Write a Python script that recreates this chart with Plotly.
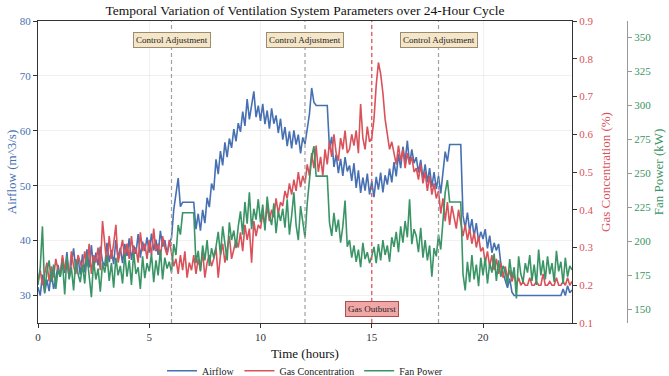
import plotly.graph_objects as go

# time axis: every 0.1 hour from 0 to 24
hours = [i / 10 for i in range(241)]

airflow = [
    31.5, 30.0, 33.8, 30.4, 32.9, 30.8, 34.5, 31.2, 33.0, 35.6,
    33.4, 36.8, 34.1, 37.9, 33.2, 36.3, 38.6, 34.7, 36.9, 33.8,
    37.5, 34.2, 38.4, 35.1, 39.2, 34.6, 37.8, 35.5, 38.9, 36.2,
    35.4, 39.6, 36.1, 38.3, 35.7, 40.1, 36.8, 38.7, 35.9, 39.4,
    37.2, 40.4, 36.5, 39.1, 37.6, 41.2, 36.9, 39.8, 38.1, 40.6,
    37.8, 41.3, 38.2, 40.2, 37.4, 41.8, 38.9, 40.1, 37.6, 39.4,
    40.5, 45.6, 48.1, 51.4, 46.2, 47.0, 47.0, 47.0, 47.0, 47.0,
    47.0, 42.1, 44.9, 41.8, 45.6, 43.2, 47.8, 46.1, 50.4, 49.2,
    54.8, 52.1, 56.3, 53.7, 57.9, 55.2, 58.6, 56.9, 60.3, 58.1,
    61.4, 59.8, 63.5, 60.9, 65.8, 62.1, 64.3, 67.2, 62.5, 64.6,
    61.8, 64.9, 61.2, 63.7, 60.4, 64.1, 61.3, 62.8, 59.6, 62.2,
    58.4, 60.7, 57.2, 59.9, 56.8, 60.1, 57.5, 59.3, 55.9, 58.8,
    57.6, 60.4, 63.1, 67.8, 65.2, 64.6, 64.6, 64.6, 64.6, 64.6,
    64.6, 56.8, 58.9, 53.4, 55.7, 52.3, 54.9, 51.8, 55.2, 52.6,
    53.7, 50.9, 54.1, 49.6, 52.8, 48.7, 51.5, 49.1, 52.2, 48.4,
    50.8, 47.9, 51.6, 49.3, 52.4, 48.8, 51.9, 50.2, 53.1, 50.6,
    54.3, 51.7, 55.8, 53.2, 57.1, 54.4, 58.2, 53.9, 56.6, 54.1,
    55.2, 52.4, 54.7, 51.3, 53.9, 50.6, 53.2, 49.8, 52.5, 49.4,
    51.8, 48.6, 53.1, 56.2, 54.4, 57.5, 57.5, 57.5, 57.5, 57.5,
    57.5, 44.6, 42.3, 45.1, 41.7, 43.9, 40.8, 43.2, 39.9, 41.6,
    40.3, 42.1, 38.6, 40.9, 37.8, 39.6, 38.2, 39.4, 35.8, 34.1,
    32.6, 31.4, 33.1, 30.6, 30.0, 30.0, 30.0, 30.0, 30.0, 30.0,
    30.0, 30.0, 30.0, 30.0, 30.0, 30.0, 30.0, 30.0, 30.0, 30.0,
    30.0, 30.0, 30.0, 30.0, 30.0, 30.0, 31.2, 30.0, 31.8, 30.5,
    31.0,
]

gas = [
    0.21, 0.24, 0.20, 0.23, 0.26, 0.21, 0.25, 0.22, 0.27, 0.24,
    0.23, 0.28, 0.24, 0.27, 0.22, 0.29, 0.25, 0.23, 0.28, 0.26,
    0.24, 0.29, 0.25, 0.31, 0.23, 0.28, 0.26, 0.30, 0.24, 0.37,
    0.30, 0.25, 0.33, 0.27, 0.31, 0.36, 0.26, 0.29, 0.32, 0.27,
    0.31, 0.27, 0.33, 0.28, 0.30, 0.26, 0.34, 0.29, 0.31, 0.27,
    0.32, 0.28, 0.35, 0.29, 0.31, 0.27, 0.33, 0.30, 0.28, 0.32,
    0.29, 0.25, 0.27, 0.23, 0.28, 0.24, 0.29, 0.22, 0.26, 0.24,
    0.28, 0.23, 0.27, 0.24, 0.29, 0.22, 0.26, 0.28, 0.25, 0.27,
    0.30, 0.22, 0.28, 0.31, 0.26, 0.29, 0.33, 0.27, 0.30, 0.32,
    0.30, 0.34, 0.29, 0.36, 0.32, 0.35, 0.26, 0.37, 0.33, 0.36,
    0.35, 0.39, 0.36, 0.41, 0.37, 0.40, 0.38, 0.43, 0.39, 0.42,
    0.41, 0.45, 0.43, 0.47, 0.44, 0.48, 0.45, 0.50, 0.46, 0.49,
    0.47, 0.52, 0.49, 0.55, 0.51, 0.57, 0.50, 0.54, 0.49, 0.56,
    0.52, 0.58, 0.54, 0.60, 0.55, 0.53, 0.59, 0.56, 0.61, 0.55,
    0.56, 0.60, 0.57, 0.61, 0.55, 0.68, 0.59, 0.56, 0.62, 0.58,
    0.59, 0.64, 0.73, 0.79, 0.76, 0.71, 0.64, 0.60, 0.56, 0.58,
    0.55, 0.52, 0.57, 0.53, 0.56, 0.51, 0.55, 0.52, 0.54, 0.50,
    0.51, 0.48, 0.52, 0.47, 0.50, 0.45, 0.49, 0.44, 0.47, 0.43,
    0.45, 0.39, 0.43, 0.37, 0.42, 0.36, 0.41, 0.38, 0.35, 0.40,
    0.37, 0.33, 0.36, 0.32, 0.35, 0.31, 0.34, 0.30, 0.33, 0.29,
    0.30, 0.26, 0.29, 0.25, 0.28, 0.24, 0.27, 0.23, 0.26, 0.22,
    0.25, 0.22, 0.24, 0.21, 0.23, 0.20, 0.22, 0.20, 0.21, 0.20,
    0.20, 0.22, 0.20, 0.20, 0.21, 0.20, 0.20, 0.23, 0.20, 0.20,
    0.21, 0.20, 0.20, 0.22, 0.20, 0.20, 0.21, 0.20, 0.22, 0.20,
    0.21,
]

fan_power = [
    168, 181, 211, 163, 178, 186, 170, 183, 165, 179,
    174, 185, 161, 189, 172, 181, 164, 187, 176, 170,
    183, 169, 190, 175, 159, 186, 172, 180, 163, 184,
    177, 190, 171, 184, 166, 188, 175, 182, 169, 191,
    174, 186, 168, 192, 176, 181, 165, 189, 173, 184,
    178, 191, 170, 186, 175, 194, 172, 188, 180, 185,
    177, 198, 190, 212, 205, 221, 221, 221, 221, 221,
    221, 184, 193, 178, 197, 186, 201, 182, 195, 188,
    196, 207, 190, 211, 198, 186, 214, 201, 208, 195,
    211, 222, 205, 229, 213, 236, 209, 224, 216, 231,
    214, 227, 208, 233, 219, 212, 228, 206, 222, 215,
    224, 210, 231, 205, 219, 236, 212, 201, 226, 215,
    203, 228, 247, 262, 270, 248, 248, 248, 248, 248,
    248, 214, 204, 221, 207, 216, 199, 211, 230, 196,
    201, 188, 197, 185, 194, 181, 199, 187, 192, 184,
    189, 196, 184, 198, 186, 201, 190, 197, 185, 203,
    196, 207, 192, 211, 199, 215, 203, 231, 198, 209,
    204, 192, 210, 188, 201, 186, 197, 174, 195, 189,
    205, 194, 213, 236, 245, 229, 229, 229, 229, 229,
    229, 176, 164, 185, 170, 190, 172, 183, 167, 188,
    175, 188, 169, 184, 177, 191, 171, 186, 174, 182,
    178, 168, 187, 173, 181, 158, 189, 176, 170, 184,
    177, 190, 171, 183, 168, 194, 175, 186, 172, 189,
    176, 184, 170, 193, 178, 185, 169, 188, 174, 182,
    179,
]

control_times = [6, 12, 18]
control_label = "Control Adjustment"
outburst_time = 15
outburst_label = "Gas Outburst"

x_ticks = [0, 5, 10, 15, 20]
air_ticks = [30, 40, 50, 60, 70, 80]
gas_ticks = [0.1, 0.2, 0.3, 0.4, 0.5, 0.6, 0.7, 0.8, 0.9]
fan_ticks = [150, 175, 200, 225, 250, 275, 300, 325, 350]

BLUE = "#4670B2"
RED = "#D9525A"
GREEN = "#3A9465"
FONT = "Liberation Serif"
AX = "#333333"

fig = go.Figure()
fig.add_trace(go.Scatter(x=hours, y=airflow, name="Airflow", mode="lines",
                         line=dict(color=BLUE, width=1.6), yaxis="y"))
fig.add_trace(go.Scatter(x=hours, y=gas, name="Gas Concentration", mode="lines",
                         line=dict(color=RED, width=1.6), yaxis="y2"))
fig.add_trace(go.Scatter(x=hours, y=fan_power, name="Fan Power", mode="lines",
                         line=dict(color=GREEN, width=1.6), yaxis="y3"))

for t in control_times:
    fig.add_shape(type="line", xref="x", yref="paper", x0=t, x1=t, y0=0, y1=1,
                  line=dict(color="#a0a0a0", width=1.2, dash="4px,3px"))
    fig.add_annotation(x=t, y=0.937, xref="x", yref="paper", yanchor="middle",
                       text=control_label, showarrow=False,
                       font=dict(family=FONT, size=9, color="#222"),
                       bgcolor="#F5E6C8", bordercolor="#9B8B70", borderwidth=1, borderpad=2)

fig.add_shape(type="line", xref="x", yref="paper", x0=outburst_time, x1=outburst_time,
              y0=0, y1=1, line=dict(color="#E5545A", width=1.3, dash="4px,3px"))
fig.add_annotation(x=outburst_time, y=0.046, xref="x", yref="paper", yanchor="middle",
                   text=outburst_label, showarrow=False,
                   font=dict(family=FONT, size=9, color="#222"),
                   bgcolor="#F2A7A7", bordercolor="#A85050", borderwidth=1, borderpad=2)

fig.update_layout(
    width=669, height=376,
    margin=dict(l=38, r=20, t=21, b=53, autoexpand=False),
    paper_bgcolor="white", plot_bgcolor="white",
    font=dict(family=FONT, size=11, color=AX),
    title=dict(text="Temporal Variation of Ventilation System Parameters over 24-Hour Cycle",
               x=0.437, xref="paper", xanchor="center", y=0.972, yref="container",
               yanchor="middle", font=dict(family=FONT, size=13.5, color="#111")),
    showlegend=True,
    legend=dict(orientation="h", x=0.437, xanchor="center", y=-0.158, yanchor="middle",
                font=dict(family=FONT, size=10, color="#222"), bgcolor="rgba(0,0,0,0)"),
    xaxis=dict(domain=[0, 0.874], range=[0, 24], tickvals=x_ticks, automargin=False,
               showline=True, linecolor=AX, linewidth=1, mirror=True,
               ticks="outside", ticklen=4, tickcolor=AX,
               showgrid=True, gridcolor="rgba(0,0,0,0.06)", zeroline=False,
               title=dict(text="Time (hours)", font=dict(family=FONT, size=13, color="#111"),
                          standoff=6)),
    yaxis=dict(range=[25, 80], tickvals=air_ticks, showline=True, linecolor=AX,
               automargin=False, ticks="outside", ticklen=4, tickcolor=AX,
               tickfont=dict(color=BLUE), showgrid=True, gridcolor="rgba(0,0,0,0.06)",
               zeroline=False,
               title=dict(text="Airflow (m^3/s)", font=dict(family=FONT, size=13, color=BLUE),
                          standoff=0)),
    yaxis2=dict(range=[0.1, 0.9], tickvals=gas_ticks, tickformat=".1f",
                overlaying="y", side="right", anchor="x", automargin=False,
                showline=True, linecolor=AX, ticks="outside", ticklen=4, tickcolor=AX,
                tickfont=dict(color=RED), showgrid=False, zeroline=False,
                title=dict(text="Gas Concentration (%)", font=dict(family=FONT, size=13, color=RED),
                           standoff=8)),
    yaxis3=dict(range=[140, 362], tickvals=fan_ticks,
                overlaying="y", side="right", anchor="free", position=0.964,
                automargin=False,
                showline=True, linecolor="#999999", ticks="outside", ticklen=4,
                tickcolor="#999999", tickfont=dict(color=GREEN), showgrid=False,
                zeroline=False,
                title=dict(text="Fan Power (kW)", font=dict(family=FONT, size=13, color=GREEN),
                           standoff=0)),
)

fig.write_html("out.html")
